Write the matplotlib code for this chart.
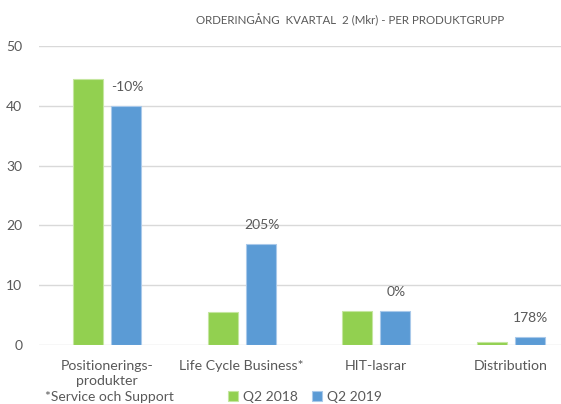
import matplotlib
matplotlib.use("Agg")
import matplotlib.pyplot as plt
import numpy as np

plt.rcParams['font.family'] = ['Lato', 'DejaVu Sans']

categories = ["Positionerings-\nprodukter", "Life Cycle Business*", "HIT-lasrar", "Distribution"]
q2_2018 = [44.5, 5.6, 5.7, 0.55]
q2_2019 = [40.0, 16.9, 5.7, 1.35]
changes = ["-10%", "205%", "0%", "178%"]

green = "#92D050"
blue = "#5B9BD5"
txt = "#595959"

fig = plt.figure(figsize=(5.61, 4.04), dpi=100)
ax = fig.add_axes([39/561, 1-345/404, 1-39/561, (345-46)/404])

x = np.arange(len(categories))
w = 0.223
off = 0.141
ax.bar(x - off, q2_2018, w, color=green, edgecolor="#c5e6a0", linewidth=0.8, label="Q2 2018", zorder=3)
ax.bar(x + off, q2_2019, w, color=blue, edgecolor="#a9c9ea", linewidth=0.8, label="Q2 2019", zorder=3)

for xi, v, s in zip(x, q2_2019, changes):
    ax.text(xi + off + 0.01, v + 2.2, s, ha="center", va="bottom", fontsize=10, color=txt)

ax.set_xlim(-0.506, 3.375)
ax.set_ylim(0, 50)
ax.set_yticks(range(0, 51, 10))
ax.yaxis.grid(True, color="#d9d9d9", linewidth=1, zorder=0)
ax.set_axisbelow(True)
for sp in ax.spines.values():
    sp.set_visible(False)
ax.tick_params(axis="y", length=0, pad=12, labelsize=10, labelcolor=txt)
ax.set_xticks(x)
ax.set_xticklabels(categories, fontsize=10.2, color=txt, linespacing=1.25)
ax.tick_params(axis="x", length=0, pad=11)

fig.text(350/561, 1-20/404, "ORDERINGÅNG  KVARTAL  2 (Mkr) - PER PRODUKTGRUPP",
         ha="center", va="center", fontsize=8.3, color=txt)
fig.text(45/561, 1-397/404, "*Service och Support", ha="left", va="center", fontsize=10, color=txt)

fig.legend(loc="center", bbox_to_anchor=(305/561, 1-397/404), ncol=2, frameon=False,
           fontsize=10, handlelength=0.7, handleheight=0.7, handletextpad=0.4,
           columnspacing=1.0, labelcolor=txt)

fig.savefig("out.png", dpi=100)
